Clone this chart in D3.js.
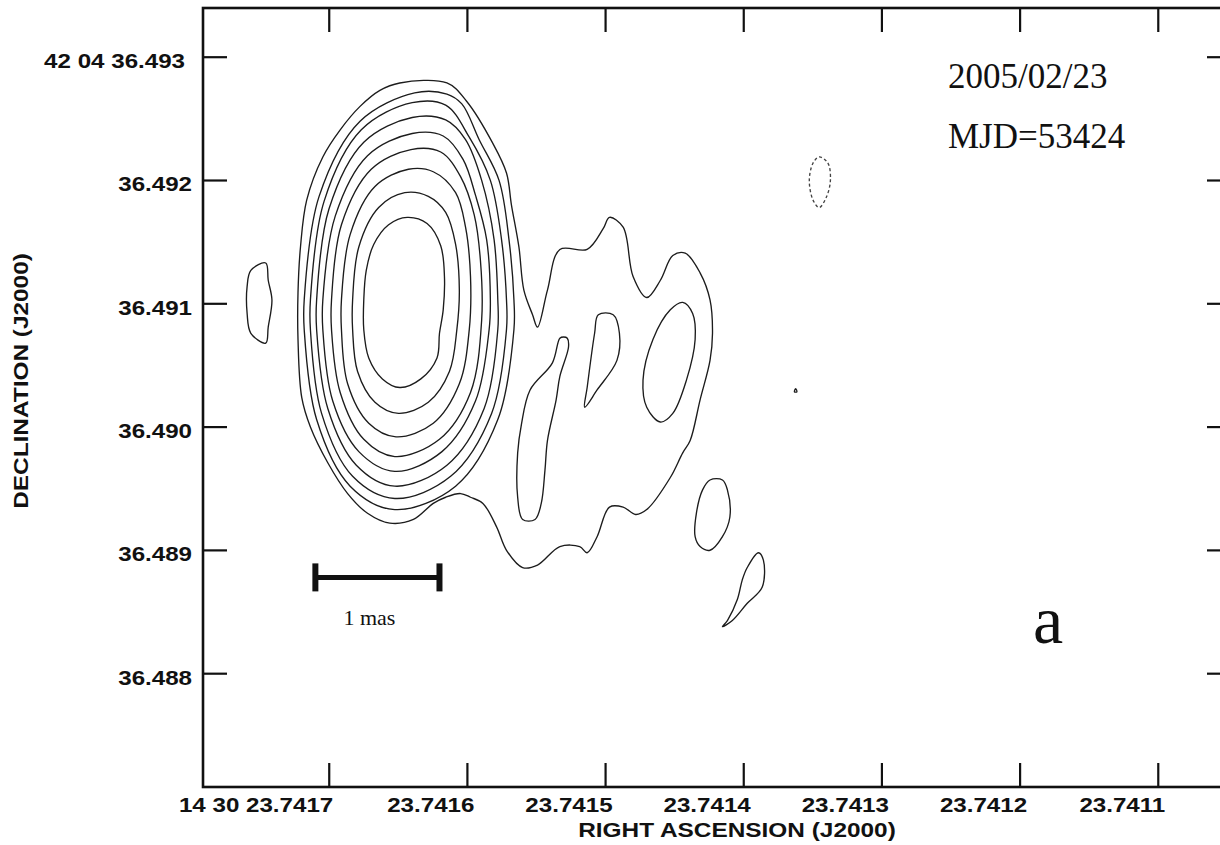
<!DOCTYPE html>
<html>
<head>
<meta charset="utf-8">
<script src="https://cdn.jsdelivr.net/npm/d3@7"></script>
<style>
  body { margin: 0; background: #fff; }
  svg { display: block; }
</style>
</head>
<body>
<svg id="chart" width="1220" height="845"></svg>
<script>
// ---- Axis ticks (J2000) ----
const raTicks = [23.7417, 23.7416, 23.7415, 23.7414, 23.7413, 23.7412, 23.7411];
const raTickLabels = ["14 30 23.7417", "23.7416", "23.7415", "23.7414", "23.7413", "23.7412", "23.7411"];
const decTicks = [36.493, 36.492, 36.491, 36.490, 36.489, 36.488];
const decTickLabels = ["42 04 36.493", "36.492", "36.491", "36.490", "36.489", "36.488"];

// Map field limits (RA seconds of time, Dec arcsec within 42 04)
const raField = [23.741791, 23.741047];
const decField = [36.487077, 36.493395];

// Map reference position; contour vertices are offsets from it in mas [ΔRA east, ΔDec north]
const originRA = 23.741645;
const originDec = 36.491027;

// Lowest positive level: encloses core and jet
const contourLevel1 = [[0.04,1.76],[-0.34,1.76],[-0.50,1.61],[-0.71,1.27],[-0.82,1.03],[-0.86,0.77],[-0.92,0.43],[-0.96,0.08],[-1.03,-0.12],[-1.07,-0.22],[-1.15,0.08],[-1.25,0.41],[-1.47,0.41],[-1.60,0.58],[-1.65,0.67],[-1.76,0.59],[-1.84,0.19],[-1.95,0.02],[-2.06,0.16],[-2.16,0.36],[-2.26,0.38],[-2.38,0.22],[-2.46,0.00],[-2.48,-0.27],[-2.46,-0.49],[-2.38,-0.81],[-2.30,-1.14],[-2.24,-1.24],[-2.14,-1.44],[-1.95,-1.70],[-1.86,-1.74],[-1.76,-1.68],[-1.65,-1.68],[-1.55,-1.92],[-1.47,-2.05],[-1.41,-2.00],[-1.25,-2.00],[-1.07,-2.15],[-0.95,-2.17],[-0.82,-2.03],[-0.74,-1.84],[-0.63,-1.65],[-0.53,-1.60],[-0.45,-1.57],[-0.33,-1.60],[-0.23,-1.65],[-0.07,-1.78],[0.12,-1.81],[0.30,-1.73],[0.46,-1.57],[0.62,-1.32],[0.76,-1.03],[0.83,-0.79],[0.86,-0.32],[0.86,0.06],[0.84,0.43],[0.79,0.81],[0.66,1.16],[0.52,1.38],[0.36,1.57],[0.20,1.70]];
// Core levels, outer to inner
const contourLevel2 = [[-0.08,1.68],[-0.34,1.67],[-0.46,1.59],[-0.60,1.30],[-0.76,0.97],[-0.84,0.49],[-0.88,0.00],[-0.88,-0.24],[-0.75,-0.97],[-0.41,-1.51],[0.08,-1.70],[0.44,-1.51],[0.71,-0.97],[0.81,-0.24],[0.81,0.00],[0.69,0.84],[0.36,1.45]];
const contourLevel3 = [[-0.06,1.60],[-0.33,1.58],[-0.52,1.32],[-0.69,0.97],[-0.78,0.49],[-0.82,0.00],[-0.82,-0.24],[-0.70,-0.92],[-0.37,-1.43],[0.08,-1.61],[0.42,-1.43],[0.67,-0.92],[0.76,-0.24],[0.76,0.00],[0.65,0.80],[0.35,1.38]];
const contourLevel4 = [[-0.06,1.48],[-0.33,1.46],[-0.49,1.30],[-0.62,0.97],[-0.72,0.49],[-0.75,0.00],[-0.75,-0.24],[-0.64,-0.88],[-0.34,-1.34],[0.08,-1.51],[0.39,-1.34],[0.62,-0.88],[0.71,-0.24],[0.71,0.00],[0.61,0.74],[0.33,1.28]];
const contourLevel5 = [[-0.06,1.35],[-0.31,1.33],[-0.47,1.14],[-0.57,0.85],[-0.66,0.49],[-0.69,0.00],[-0.68,-0.24],[-0.57,-0.82],[-0.30,-1.23],[0.08,-1.39],[0.37,-1.23],[0.58,-0.82],[0.66,-0.24],[0.66,0.00],[0.56,0.68],[0.30,1.17]];
const contourLevel6 = [[-0.05,1.22],[-0.29,1.20],[-0.45,1.00],[-0.56,0.69],[-0.61,0.32],[-0.62,-0.16],[-0.53,-0.75],[-0.28,-1.13],[0.08,-1.27],[0.33,-1.13],[0.52,-0.75],[0.59,-0.24],[0.59,0.00],[0.51,0.61],[0.27,1.06]];
const contourLevel7 = [[-0.03,1.06],[-0.23,1.04],[-0.41,0.87],[-0.49,0.59],[-0.53,0.19],[-0.52,-0.24],[-0.44,-0.68],[-0.23,-1.00],[0.07,-1.11],[0.29,-1.00],[0.46,-0.68],[0.51,-0.24],[0.51,0.00],[0.44,0.53],[0.24,0.92]];
const contourLevel8 = [[0.00,0.87],[-0.19,0.84],[-0.33,0.71],[-0.41,0.45],[-0.44,0.08],[-0.42,-0.24],[-0.36,-0.58],[-0.19,-0.83],[0.05,-0.92],[0.24,-0.83],[0.38,-0.58],[0.42,-0.24],[0.42,0.00],[0.37,0.43],[0.21,0.75]];
const contourLevel9 = [[-0.02,0.67],[-0.18,0.62],[-0.29,0.44],[-0.32,0.19],[-0.31,-0.08],[-0.28,-0.27],[-0.26,-0.47],[-0.13,-0.64],[0.04,-0.71],[0.18,-0.64],[0.29,-0.47],[0.33,-0.24],[0.33,0.00],[0.31,0.24],[0.25,0.45],[0.13,0.61]];
// Jet knots and isolated lowest-level islands
const jetKnotA = [[-1.28,-0.30],[-1.31,-0.31],[-1.32,-0.38],[-1.25,-0.62],[-1.22,-0.81],[-1.15,-1.14],[-1.13,-1.38],[-1.10,-1.65],[-1.05,-1.78],[-0.95,-1.78],[-0.91,-1.60],[-0.91,-1.24],[-0.94,-1.01],[-1.01,-0.73],[-1.19,-0.51],[-1.25,-0.31]];
const jetKnotB = [[-1.56,-0.12],[-1.68,-0.12],[-1.73,-0.27],[-1.71,-0.49],[-1.55,-0.73],[-1.45,-0.87],[-1.47,-0.71],[-1.53,-0.27]];
const jetKnotC = [[-2.24,-0.02],[-2.32,-0.11],[-2.34,-0.32],[-2.27,-0.65],[-2.16,-0.92],[-2.06,-0.99],[-1.95,-0.87],[-1.92,-0.65],[-2.00,-0.32],[-2.14,-0.08]];
const jetKnotD = [[-2.46,-1.46],[-2.56,-1.46],[-2.60,-1.54],[-2.62,-1.76],[-2.56,-1.92],[-2.46,-2.03],[-2.38,-2.00],[-2.34,-1.92],[-2.35,-1.73],[-2.40,-1.54]];
const jetKnotE = [[-2.85,-2.05],[-2.89,-2.11],[-2.88,-2.33],[-2.76,-2.46],[-2.64,-2.60],[-2.56,-2.65],[-2.60,-2.60],[-2.68,-2.43],[-2.72,-2.27],[-2.76,-2.17]];
const eastIsland = [[1.24,0.24],[1.12,0.30],[1.10,0.16],[1.07,0.00],[1.10,-0.22],[1.12,-0.35],[1.24,-0.27],[1.27,-0.11],[1.27,0.11]];
const speck = [[-3.15,-0.72],[-3.16,-0.745],[-3.14,-0.745]];
// Negative level (dashed)
const negativeLevel = [[-3.34,1.16],[-3.41,1.11],[-3.43,0.97],[-3.40,0.84],[-3.34,0.75],[-3.29,0.81],[-3.26,0.97],[-3.29,1.11]];

const positiveContours = [contourLevel1, contourLevel2, contourLevel3, contourLevel4, contourLevel5,
  contourLevel6, contourLevel7, contourLevel8, contourLevel9,
  jetKnotA, jetKnotB, jetKnotC, jetKnotD, jetKnotE, eastIsland, speck];
const negativeContours = [negativeLevel];

// Scale bar: 1 mas
const scaleBarMas = 1;
const scaleBarLabel = "1 mas";

// Epoch annotation
const epochLines = ["2005/02/23", "MJD=53424"];
const panelTag = "a";

// ---- Layout ----
const svg = d3.select("#chart");
const frame = { left: 203, top: 8, right: 1231, bottom: 787 };

const x = d3.scaleLinear().domain(raField).range([frame.left, frame.right]);
const y = d3.scaleLinear().domain(decField).range([frame.bottom, frame.top]);

// mas offsets -> RA seconds / Dec arcsec
const decDegrees = 42 + 4 / 60 + originDec / 3600;
const masPerSecond = 15000 * Math.cos(decDegrees * Math.PI / 180);
const skyRA = d => originRA + d[0] / masPerSecond;
const skyDec = d => originDec + d[1] / 1000;

const contourLine = d3.line()
  .x(d => x(skyRA(d)))
  .y(d => y(skyDec(d)))
  .curve(d3.curveCatmullRomClosed.alpha(0.5));

const maps = svg.append("g").attr("fill", "none").attr("stroke", "#1c1c1c")
  .attr("stroke-width", 1.35).attr("stroke-linejoin", "round");

maps.selectAll("path.pos").data(positiveContours).join("path")
  .attr("class", "pos").attr("d", contourLine);

maps.selectAll("path.neg").data(negativeContours).join("path")
  .attr("class", "neg").attr("d", contourLine)
  .attr("stroke-dasharray", "3,2.5").attr("stroke", "#444");

// ---- Frame and axes ----
const tickFont = "'Liberation Sans', Arial, Helvetica, sans-serif";
const stretch = 1.15;      // wide bold lettering of the tick labels
const titleStretch = 1.22; // and of the axis titles

svg.append("rect")
  .attr("x", frame.left).attr("y", frame.top)
  .attr("width", frame.right - frame.left).attr("height", frame.bottom - frame.top)
  .attr("fill", "none").attr("stroke", "#111").attr("stroke-width", 2.6);

function styleAxis(g) {
  g.select(".domain").remove();
  g.selectAll(".tick line").attr("stroke", "#111").attr("stroke-width", 2.2);
  g.selectAll(".tick text").attr("fill", "#111")
    .style("font-family", tickFont).style("font-weight", "bold").style("font-size", "21px");
}

svg.append("g").attr("transform", `translate(0,${frame.bottom})`)
  .call(d3.axisBottom(x).tickValues(raTicks).tickFormat((d, i) => raTickLabels[i])
    .tickSizeInner(-24).tickSizeOuter(0).tickPadding(10))
  .call(styleAxis)
  .call(g => g.selectAll(".tick text")
    .attr("text-anchor", "end")
    .attr("x", (d, i) => (i === 0 ? 4 : 7) / stretch)
    .attr("transform", `scale(${stretch},1)`));

svg.append("g").attr("transform", `translate(0,${frame.top})`)
  .call(d3.axisTop(x).tickValues(raTicks).tickFormat(() => "")
    .tickSizeInner(-24).tickSizeOuter(0))
  .call(styleAxis);

svg.append("g").attr("transform", `translate(${frame.left},0)`)
  .call(d3.axisLeft(y).tickValues(decTicks).tickFormat((d, i) => decTickLabels[i])
    .tickSizeInner(-24).tickSizeOuter(0))
  .call(styleAxis)
  .call(g => g.selectAll(".tick text")
    .attr("x", (d, i) => -(i === 0 ? 18 : 11) / stretch)
    .attr("dy", "0.52em")
    .attr("transform", `scale(${stretch},1)`));

svg.append("g").attr("transform", `translate(${frame.right},0)`)
  .call(d3.axisRight(y).tickValues(decTicks).tickFormat(() => "")
    .tickSizeInner(-24).tickSizeOuter(0))
  .call(styleAxis);

// Axis titles
svg.append("text")
  .attr("transform", `translate(737,837) scale(${titleStretch},1)`).attr("text-anchor", "middle")
  .style("font-family", tickFont).style("font-weight", "bold").style("font-size", "20px")
  .attr("fill", "#111").text("RIGHT ASCENSION (J2000)");

svg.append("text")
  .attr("transform", `translate(28,381) rotate(-90) scale(${titleStretch},1)`).attr("text-anchor", "middle")
  .style("font-family", tickFont).style("font-weight", "bold").style("font-size", "20px")
  .attr("fill", "#111").text("DECLINATION (J2000)");

// ---- Annotations ----
const serif = "'Liberation Serif', 'Times New Roman', Times, serif";

svg.selectAll("text.epoch").data(epochLines).join("text")
  .attr("class", "epoch")
  .attr("x", 948).attr("y", (d, i) => 88 + i * 60)
  .style("font-family", serif).style("font-size", "35px").attr("fill", "#111")
  .text(d => d);

svg.append("text").attr("x", 1048).attr("y", 643).attr("text-anchor", "middle")
  .style("font-family", serif).style("font-size", "68px").attr("fill", "#111")
  .text(panelTag);

// 1 mas scale bar, placed in map coordinates
const barStart = [0.72, -2.25];
const barEnd = [barStart[0] - scaleBarMas, barStart[1]];
const bx0 = x(skyRA(barStart)), bx1 = x(skyRA(barEnd)), by = y(skyDec(barStart));
const bar = svg.append("g").attr("stroke", "#111");
bar.append("line").attr("x1", bx0).attr("x2", bx1).attr("y1", by).attr("y2", by).attr("stroke-width", 5);
bar.selectAll("line.cap").data([bx0, bx1]).join("line").attr("class", "cap")
  .attr("x1", d => d).attr("x2", d => d).attr("y1", by - 14).attr("y2", by + 14)
  .attr("stroke-width", 6);
svg.append("text").attr("x", (bx0 + bx1) / 2 - 8).attr("y", by + 48).attr("text-anchor", "middle")
  .style("font-family", serif).style("font-size", "22px").attr("fill", "#111")
  .text(scaleBarLabel);
</script>
</body>
</html>
